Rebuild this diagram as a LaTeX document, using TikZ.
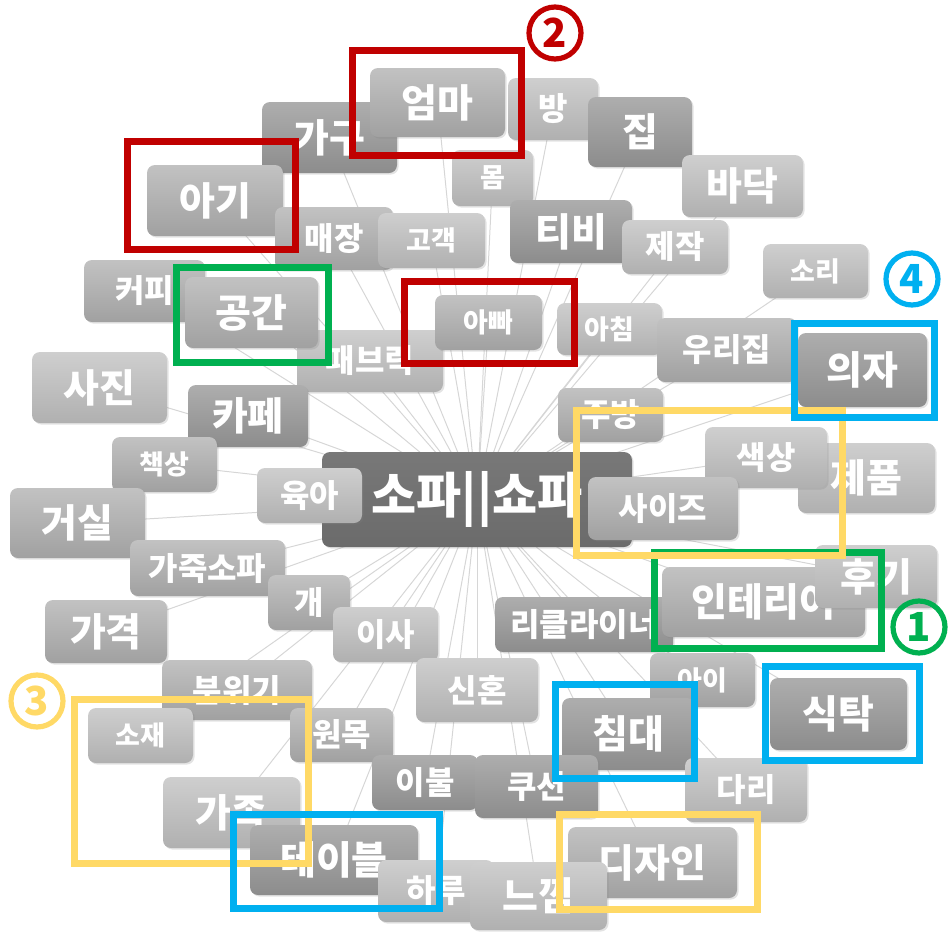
\documentclass[tikz,border=0pt]{standalone}
\usepackage{fontspec}
\newfontfamily\kr{Noto Sans CJK KR}
\usetikzlibrary{shadows,backgrounds}
\definecolor{hlred}{HTML}{C00000}
\definecolor{hlgreen}{HTML}{00B050}
\definecolor{hlyellow}{HTML}{FFD966}
\definecolor{hlblue}{HTML}{00B0F0}
\definecolor{linkgray}{HTML}{D6D6D6}

\begin{document}
\begin{tikzpicture}[x=0.5pt,y=-0.5pt,
  tag/.style={rounded corners=4pt, top color=black!24, bottom color=black!37, text=white,
    inner sep=0pt, drop shadow={opacity=.22,shadow xshift=.8pt,shadow yshift=-.8pt}},
  tagl/.style={tag, top color=black!19, bottom color=black!31},
  tagd/.style={tag, top color=black!32, bottom color=black!45},
  sz/.style 2 args={minimum width=#1*0.5pt, minimum height=#2*0.5pt},
  fbig/.style={font=\kr\bfseries\fontsize{19.5}{20}\selectfont},
  fmid/.style={font=\kr\bfseries\fontsize{16}{17}\selectfont},
  fsmall/.style={font=\kr\bfseries\fontsize{13.5}{14}\selectfont},
  link/.style={draw=linkgray, line width=0.5pt},
  hlbox/.style={draw=#1, line width=3.5pt},
  numc/.style={circle, draw=#1, text=#1, line width=2.6pt, minimum size=26pt, inner sep=0pt,
    font=\kr\bfseries\fontsize{20}{20}\selectfont}]
  \useasboundingbox (0,0) rectangle (950,933);

  \node[tagd, sz={135}{71}, fbig] (gagu) at (329.5,137.5) {가구};
  \node[tag, sz={135}{69}, fbig] (eomma) at (437.5,102.5) {엄마};
  \node[tagl, sz={90}{62}, fmid] (bang) at (553,109) {방};
  \node[tagd, sz={104}{70}, fbig] (jip) at (640,132) {집};
  \node[tagl, sz={81}{56}, fsmall] (mom) at (492.5,178) {몸};
  \node[tag, sz={136}{71}, fbig] (agi) at (215,200.5) {아기};
  \node[tag, sz={118}{63}, fmid] (maejang) at (334,238.5) {매장};
  \node[tagl, sz={107}{55}, fsmall] (gogaek) at (431.5,240.5) {고객};
  \node[tagd, sz={122}{63}, fbig] (tibi) at (571,231.5) {티비};
  \node[tagl, sz={121}{62}, fbig] (badak) at (742.5,186) {바닥};
  \node[tagl, sz={106}{54}, fmid] (jejak) at (675,247) {제작};
  \node[tagl, sz={105}{54}, fsmall] (sori) at (815.5,271) {소리};
  \node[tag, sz={121}{62}, fmid] (keopi) at (144.5,291) {커피};
  \node[tagl, sz={146}{62}, fmid] (fabric) at (370,361) {패브릭};
  \node[tag, sz={133}{71}, fbig] (gonggan) at (251.5,312.5) {공간};
  \node[tag, sz={107}{55}, fsmall] (appa) at (488.5,322.5) {아빠};
  \node[tagl, sz={105}{52}, fsmall] (achim) at (609.5,329) {아침};
  \node[tag, sz={140}{64}, fmid] (urijip) at (727,350) {우리집};
  \node[tagd, sz={129}{74}, fbig] (uija) at (862.5,370) {의자};
  \node[tagl, sz={135}{71}, fbig] (sajin) at (99.5,387.5) {사진};
  \node[tagd, sz={120}{62}, fbig] (kape) at (248,416) {카페};
  \node[tag, sz={105}{55}, fsmall] (chaeksang) at (164.5,464.5) {책상};
  \node[tag, sz={105}{54}, fmid] (jubang) at (610.5,415) {주방};
  \node[tagl, sz={137}{70}, fbig] (jepum) at (866.5,478) {제품};
  \node[tagl, sz={122}{61}, fmid] (saeksang) at (766,457.5) {색상};
  \node[tag, sz={135}{70}, fbig] (geosil) at (77.5,523) {거실};
  \node[tag, sz={310}{95}, top color=black!53, bottom color=black!58,
    font=\kr\bfseries\fontsize{24.5}{25}\selectfont] (sofa) at (477,499.5) {소파||쇼파};
  \node[tagl, sz={105}{55}, fmid] (yuga) at (309.5,495.5) {육아};
  \node[tag, sz={150}{63}, fmid] (size) at (663,508.5) {사이즈};
  \node[tag, sz={155}{56}, fmid] (gajuksofa) at (207.5,568) {가죽소파};
  \node[tag, sz={82}{55}, fmid] (gae) at (309,602.5) {개};
  \node[tagl, sz={105}{55}, fmid] (isa) at (385.5,634.5) {이사};
  \node[tag, sz={122}{63}, fbig] (gagyeok) at (106,631.5) {가격};
  \node[tagd, sz={178}{55}, fmid] (recliner) at (584,624.5) {리클라이너};
  \node[tag, sz={203}{70}, fbig] (interior) at (763.5,602) {인테리어};
  \node[tagl, sz={122}{63}, fbig] (hugi) at (876,576.5) {후기};
  \node[tag, sz={105}{54}, fsmall] (ai) at (702.5,680) {아이};
  \node[tagl, sz={122}{64}, fmid] (sinhon) at (477,690) {신혼};
  \node[tag, sz={150}{60}, fmid] (bunwigi) at (237,690) {분위기};
  \node[tag, sz={103}{54}, fmid] (wonmok) at (341.5,735) {원목};
  \node[tagl, sz={105}{55}, fsmall] (sojae) at (140.5,735.5) {소재};
  \node[tagd, sz={137}{72}, fbig] (siktak) at (838.5,714) {식탁};
  \node[tagd, sz={133}{72}, fbig] (chimdae) at (628.5,734) {침대};
  \node[tagl, sz={122}{64}, fmid] (dari) at (746,790) {다리};
  \node[tagd, sz={106}{55}, fmid] (ibul) at (425,782.5) {이불};
  \node[tagd, sz={123}{63}, fmid] (cushion) at (536.5,786.5) {쿠션};
  \node[tagl, sz={137}{71}, fbig] (gajok) at (231.5,812.5) {가족};
  \node[tagd, sz={168}{70}, fbig] (table) at (334,860) {테이블};
  \node[tag, sz={169}{71}, fbig] (design) at (652.5,862.5) {디자인};
  \node[tagl, sz={116}{62}, fmid] (haru) at (436,891) {하루};
  \node[tagl, sz={137}{68}, fbig] (neukkim) at (538.5,896) {느낌};

  \begin{scope}[on background layer]
    \foreach \n in {gagu,eomma,bang,jip,mom,agi,maejang,gogaek,tibi,badak,jejak,sori,keopi,
      fabric,gonggan,appa,achim,urijip,uija,sajin,kape,chaeksang,jubang,jepum,saeksang,geosil,
      yuga,size,gajuksofa,gae,isa,gagyeok,recliner,interior,hugi,ai,sinhon,bunwigi,wonmok,
      sojae,siktak,chimdae,dari,ibul,cushion,gajok,table,design,haru,neukkim}
      \draw[link] (sofa.center) -- (\n.center);
  \end{scope}

  \draw[hlbox=hlred] (352,50) rectangle (521,155);
  \draw[hlbox=hlred] (127,141) rectangle (295,249);
  \draw[hlbox=hlred] (404,281) rectangle (574,363);
  \draw[hlbox=hlgreen] (176,267) rectangle (328,362);
  \draw[hlbox=hlgreen] (654,552) rectangle (881,648);
  \draw[hlbox=hlyellow] (576,410) rectangle (842,555);
  \draw[hlbox=hlyellow] (74,699) rectangle (308,863);
  \draw[hlbox=hlyellow] (559,814) rectangle (757,909);
  \draw[hlbox=hlblue] (794,323) rectangle (934,417);
  \draw[hlbox=hlblue] (765,666) rectangle (919,760);
  \draw[hlbox=hlblue] (555,684) rectangle (694,778);
  \draw[hlbox=hlblue] (233,814) rectangle (439,908);

  \node[numc=hlgreen] (num1) at (919,627) {1};
  \node[numc=hlred] (num2) at (555,33) {2};
  \node[numc=hlyellow] (num3) at (37,701) {3};
  \node[numc=hlblue] (num4) at (912,279) {4};
\end{tikzpicture}
\end{document}
